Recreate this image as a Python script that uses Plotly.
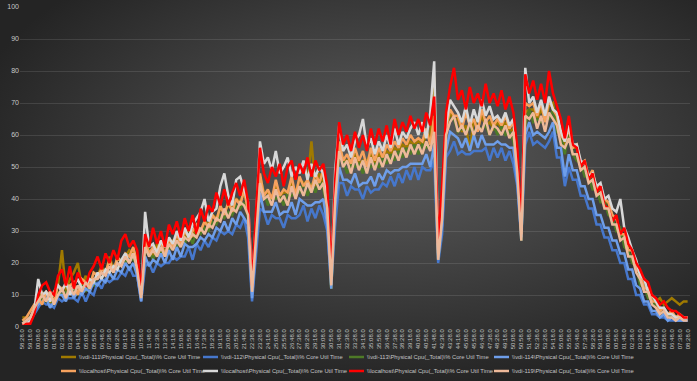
import base64
import plotly.graph_objects as go

# ---------------- data ----------------
tick_labels = ["58:28.0","59:18.0","00:08.0","00:58.0","01:48.0","02:38.0","03:28.0","04:18.0","05:08.0","05:58.0",
               "06:48.0","07:38.0","08:28.0","09:18.0","10:08.0","10:58.0","11:48.0","12:38.0","13:28.0","14:18.0",
               "15:08.0","15:58.0","16:48.0","17:38.0","18:28.0","19:18.0","20:08.0","20:58.0","21:48.0","22:38.0",
               "23:28.0","24:18.0","25:08.0","25:58.0","26:48.0","27:38.0","28:28.0","29:18.0","30:08.0","30:58.0",
               "31:48.0","32:38.0","33:28.0","34:18.0","35:08.0","35:58.0","36:48.0","37:38.0","38:28.0","39:18.0",
               "40:08.0","40:58.0","41:48.0","42:38.0","43:28.0","44:18.0","45:08.0","45:58.0","46:48.0","47:38.0",
               "48:28.0","49:18.0","50:08.0","50:58.0","51:48.0","52:38.0","53:28.0","54:18.0","55:08.0","55:58.0",
               "56:48.0","57:38.0","58:28.0","59:18.0","00:08.0","00:58.0","01:48.0","02:38.0","03:28.0","04:18.0",
               "05:08.0","05:58.0","06:48.0","07:38.0","08:28.0"]

vdi111 = [3,3,3,5,8,11,9,7,11,13, 24,11,15,17,20,13,16,12,17,16, 19,16,22,18,21,21,22,24,23,22,
          10,27,24,22,26,23,26,26,27,27, 28,28,31,28,32,29,33,32,35,34, 37,36,38,37,40,39,42,37,12,31,
          47,42,42,40,44,41,42,42,45,42, 46,45,45,58,44,48,45,39,12,42, 57,52,52,51,54,51,52,52,54,51,
          54,53,55,54,56,55,57,56,58,57, 58,57,60,59,78,23,37,60,67,65, 65,61,63,55,65,62,66,63,64,62,
          64,62,64,61,62,50,29,67,68,68, 65,68,65,69,70,63,62,56,60,56, 56,51,51,47,47,43,43,39,39,34,
          34,29,29,24,24,19,16,12,12,9, 8,9,7,8,9,8,7,8,8]
vdi112 = [1,1,2,4,6,8,7,7,6,9, 8,9,9,9,8,11,8,11,10,14, 12,15,14,15,15,17,16,19,16,16,
          8,19,20,17,20,19,20,20,22,21, 22,22,25,21,26,24,27,25,28,27, 30,29,30,29,32,31,34,28,8,24,
          37,36,32,35,34,34,31,35,34,34, 35,38,33,37,34,38,35,30,13,32, 45,45,41,44,43,43,40,44,42,43,
          43,45,44,47,44,48,45,49,46,50, 46,50,49,49,52,20,29,53,55,58, 54,55,54,54,55,55,55,56,52,56,
          53,56,52,55,51,44,27,57,61,57, 58,57,56,58,61,53,53,44,50,46, 46,41,41,37,37,32,32,28,28,24,
          24,20,20,15,15,10,10,7,7,4, 4,3,3,2,2,2,2,2,2]
vdi113 = [2,2,3,5,7,9,8,9,7,11, 10,11,11,12,10,13,11,14,13,17, 15,18,17,19,18,21,20,23,21,20,
          9,23,24,21,24,23,24,24,26,25, 27,26,29,26,30,29,31,30,33,32, 35,34,36,35,38,37,39,34,11,28,
          43,42,38,41,40,41,38,42,41,42, 42,45,41,45,42,46,43,37,12,38, 53,52,48,51,50,51,48,52,50,51,
          50,53,51,54,52,55,53,56,54,57, 54,57,56,57,60,21,33,63,65,65, 61,62,61,62,61,62,62,63,60,63,
          60,63,60,61,58,49,27,63,68,64, 65,64,65,65,68,61,60,54,62,54, 52,51,47,47,43,43,39,39,35,34,
          30,31,25,24,20,19,13,13,9,9, 6,5,4,4,3,3,3,3,3]
vdi114 = [1,2,3,5,7,8,9,6,8,10, 10,8,12,9,11,10,12,11,14,13, 15,14,17,15,18,17,20,18,20,16,
          8,22,19,21,20,23,20,24,21,25, 22,26,25,25,26,28,27,29,28,31, 30,33,30,34,32,36,34,32,9,27,
          42,36,36,36,39,35,36,36,39,35, 40,39,38,38,39,39,40,32,12,37, 50,46,46,45,48,44,45,45,47,44,
          48,46,49,48,49,49,50,50,51,51, 51,51,54,50,57,21,32,55,61,60, 59,56,59,55,60,56,60,57,57,57,
          58,57,57,56,56,45,28,60,64,60, 61,60,59,61,64,56,56,47,54,49, 49,44,44,40,40,35,35,31,31,27,
          27,23,23,18,18,13,12,8,8,5, 5,3,4,2,3,2,2,2,2]
local_orange = [2,3,5,7,9,7,11,10,8,13, 12,13,13,14,10,15,14,13,17,16, 18,17,21,17,22,20,23,22,25,20,
                10,27,23,25,24,27,22,28,25,29, 26,30,28,30,32,30,33,31,35,33, 38,35,39,36,40,38,43,36,13,32,
                48,41,43,40,46,41,43,42,47,41, 47,44,46,43,48,45,49,38,15,43, 58,52,54,51,56,52,55,50,56,52,
                56,53,57,55,58,56,59,57,60,58, 59,58,62,57,66,23,37,62,68,66, 66,62,67,63,65,61,68,64,66,63,
                65,63,66,62,64,51,29,70,69,70, 66,70,64,71,68,66,60,58,62,56, 57,51,52,47,49,43,44,40,39,35,
                34,29,29,24,24,18,17,12,12,8, 8,5,6,4,5,3,4,3,3]
local_white = [1,1,2,5,15,10,11,8,11,13, 11,14,10,13,15,12,13,15,14,17, 15,18,17,19,18,21,23,20,23,19,
               10,36,25,26,23,27,25,28,26,30, 27,31,28,32,34,36,40,33,36,37, 44,48,41,38,46,47,43,39,14,33,
               58,51,53,49,55,48,50,53,47,50, 48,52,46,51,47,50,48,41,16,49, 63,55,57,53,58,60,65,56,59,54,
               58,55,60,56,62,57,61,59,62,64, 60,64,59,67,83,24,39,63,71,69, 67,64,69,63,68,64,71,66,69,65,
               66,64,67,63,65,52,30,81,70,72, 67,71,66,72,68,67,61,58,63,57, 57,52,51,47,48,44,45,40,41,37,
               36,40,31,28,24,21,16,15,11,10, 8,6,6,4,4,3,3,3,3]
local_red = [1,1,1,4,10,13,14,11,10,16, 18,13,19,12,17,14,13,17,19,22, 18,23,20,24,21,27,29,25,27,24,
             11,29,25,31,26,30,25,32,29,33, 28,34,30,35,29,37,33,38,36,42, 38,43,38,42,45,41,46,39,13,36,
             56,48,45,50,47,51,44,50,52,46, 51,48,53,47,52,49,51,44,17,46, 64,57,60,55,61,56,60,55,62,57,
             62,58,63,57,65,60,64,61,66,62, 65,61,67,63,72,26,44,67,75,81, 71,74,68,75,70,73,69,76,70,73,
             69,74,68,72,67,56,31,79,73,77, 71,76,70,80,73,69,65,59,66,57, 56,50,52,46,48,42,44,38,37,33,
             35,29,31,26,24,20,18,15,14,10, 9,7,8,6,5,5,4,3,3]
vdi119 = [1,2,3,6,8,10,8,11,7,10, 12,9,13,10,13,11,14,12,15,15, 17,16,19,17,20,19,22,20,23,18,
          9,25,22,24,22,25,22,26,24,27, 25,28,27,29,28,31,29,32,31,34, 33,37,34,37,36,39,38,35,11,29,
          45,40,41,38,43,39,41,38,44,40, 44,41,45,42,46,43,45,37,13,40, 55,50,52,48,53,49,52,48,53,49,
          53,50,54,51,55,52,56,53,57,54, 57,54,58,55,61,21,34,60,64,66, 61,63,60,64,60,63,61,65,60,63,
          62,60,63,59,61,48,27,66,65,67, 62,66,61,67,65,63,57,56,59,54, 54,49,50,45,46,41,42,37,37,32,
          32,27,28,22,22,17,15,11,11,7, 6,4,5,3,3,2,3,2,2]

series_names = ["\\\\vdi-111\\Physical Cpu(_Total)\\% Core Util Time",
                "\\\\vdi-112\\Physical Cpu(_Total)\\% Core Util Time",
                "\\\\vdi-113\\Physical Cpu(_Total)\\% Core Util Time",
                "\\\\vdi-114\\Physical Cpu(_Total)\\% Core Util Time",
                "\\\\localhost\\Physical Cpu(_Total)\\% Core Util Time",
                "\\\\localhost\\Physical Cpu(_Total)\\% Core Util Time",
                "\\\\localhost\\Physical Cpu(_Total)\\% Core Util Time",
                "\\\\vdi-119\\Physical Cpu(_Total)\\% Core Util Time"]
series_values = [vdi111, vdi112, vdi113, vdi114, local_orange, local_white, local_red, vdi119]
series_colors = ["#A07A00", "#4677CC", "#4E7A27", "#6E9EEA", "#F6A25E", "#D8D8D8", "#FF0000", "#EDB99A"]

# points are every 25 s; labels every 50 s
points_per_label = 2
n = len(vdi111)
xs = list(range(n))
tickvals = list(range(0, n, points_per_label))

fig = go.Figure()
for name, vals, col in zip(series_names, series_values, series_colors):
    fig.add_trace(go.Scatter(x=xs, y=vals, mode="lines", name=name, showlegend=False,
                             line=dict(color=col, width=2.5)))

svg = ('<svg xmlns="http://www.w3.org/2000/svg" width="697" height="381">'
       '<defs><radialGradient id="g" cx="56%" cy="40%" r="62%">'
       '<stop offset="0" stop-color="#5e5e5e"/><stop offset="1" stop-color="#242424"/>'
       '</radialGradient></defs><rect width="697" height="381" fill="url(#g)"/></svg>')
src = "data:image/svg+xml;base64," + base64.b64encode(svg.encode()).decode()

L, R, T, B = 20, 7, 7, 54
W, H = 697, 381
pw, ph = W - L - R, H - T - B

def px2x(p):
    return (p - L) / pw

def py2y(p):
    return (H - B - p) / ph

# manual legend (two rows of four entries)
legend_cols = [61, 203, 349, 494]
legend_rows = [357, 371]
shapes, annotations = [], []
for k, (name, col) in enumerate(zip(series_names, series_colors)):
    r, c = divmod(k, 4)
    x0 = legend_cols[c]
    yy = py2y(legend_rows[r])
    shapes.append(dict(type="line", xref="paper", yref="paper", x0=px2x(x0), x1=px2x(x0 + 15),
                       y0=yy, y1=yy, line=dict(color=col, width=2.5)))
    annotations.append(dict(xref="paper", yref="paper", x=px2x(x0 + 16), y=yy, xanchor="left",
                            yanchor="middle", text=name, showarrow=False,
                            font=dict(size=5.8, color="#c4c4c4", family="Liberation Sans, Arial")))

fig.update_layout(
    width=W, height=H,
    margin=dict(l=L, r=R, t=T, b=B),
    paper_bgcolor="#303030",
    plot_bgcolor="rgba(0,0,0,0)",
    images=[dict(source=src, xref="paper", yref="paper",
                 x=-L / pw, y=1 + T / ph, sizex=W / pw, sizey=H / ph,
                 sizing="stretch", layer="below", xanchor="left", yanchor="top")],
    showlegend=False,
    shapes=shapes,
    annotations=annotations,
    font=dict(family="Liberation Sans, Arial", color="#c8c8c8"),
)
fig.update_xaxes(range=[-0.6, n - 1 + 0.6], tickmode="array", tickvals=tickvals, ticktext=tick_labels,
                 tickangle=-90, tickfont=dict(size=6, color="#c4c4c4"), showgrid=False,
                 showline=False, zeroline=False, ticks="", automargin=False)
fig.update_yaxes(range=[0, 100], dtick=10, tickfont=dict(size=7, color="#c8c8c8"),
                 showgrid=True, gridcolor="rgba(255,255,255,0.11)", gridwidth=1,
                 zeroline=False, showline=False, ticks="", automargin=False)

fig.write_html("out.html", config={"displayModeBar": False},
               post_script="document.body.style.margin='0';document.body.style.background='#242424';")
